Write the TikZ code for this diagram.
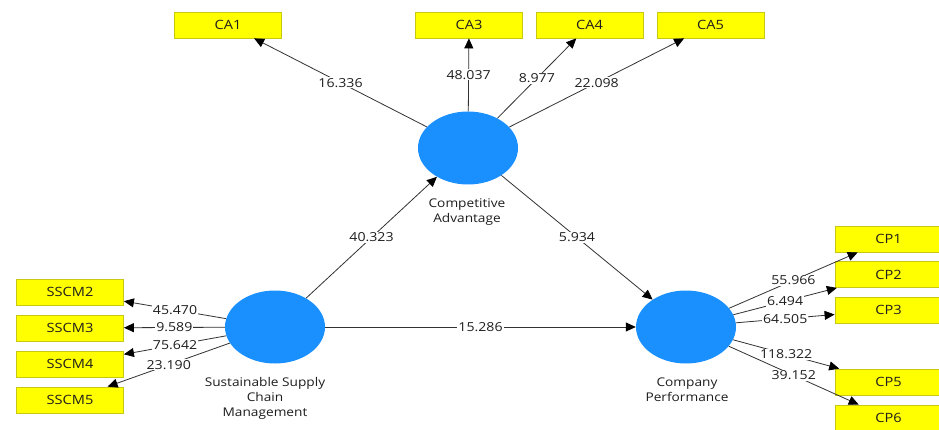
\documentclass[tikz,border=0pt]{standalone}
\usepackage{fontspec}
\setmainfont{Open Sans}[FakeStretch=1.14]
\usetikzlibrary{arrows.meta,shapes.geometric}
\definecolor{lvblue}{RGB}{26,144,255}
\definecolor{boxyellow}{RGB}{255,255,0}
\definecolor{boxedge}{RGB}{200,200,20}
\definecolor{linegray}{RGB}{50,50,50}
\definecolor{txt}{RGB}{30,30,30}
\begin{document}
\begin{tikzpicture}[x=1pt,y=-1pt,
  font=\fontsize{12}{15}\selectfont,
  latent/.style={ellipse,fill=lvblue,minimum width=100,minimum height=73,inner sep=0},
  indicator/.style={rectangle,draw=boxedge,line width=0.8pt,fill=boxyellow,minimum width=107,minimum height=26,inner sep=0,text=txt,font=\fontsize{12.8}{15}\selectfont},
  caption/.style={align=center,text=txt,inner sep=0},
  conn/.style={draw=linegray,line width=0.8pt,-{Triangle[length=10pt,width=9pt,color=black]}},
  val/.style={fill=white,inner sep=1pt,text=txt,pos=0.5,font=\fontsize{12.4}{15}\selectfont}]
\clip (0,0) rectangle (939,430);
\fill[white] (0,0) rectangle (939,430);

% latent variables
\node[latent] (ca) at (468,148) {};
\node[latent] (ss) at (275,327) {};
\node[latent] (cp) at (686,327) {};

\node[caption] (catext) at (467,212) {Competitive\\Advantage};
\node[caption] (sstext) at (265,398) {Sustainable Supply\\Chain\\Management};
\node[caption] (cptext) at (687,390) {Company\\Performance};

% indicators
\node[indicator] (ca1) at (228,25) {CA1};
\node[indicator] (ca3) at (469,25) {CA3};
\node[indicator] (ca4) at (589.5,25) {CA4};
\node[indicator] (ca5) at (710.5,25) {CA5};

\node[indicator] (s2) at (70,292) {SSCM2};
\node[indicator] (s3) at (70,328) {SSCM3};
\node[indicator] (s4) at (70,364) {SSCM4};
\node[indicator] (s5) at (70,400) {SSCM5};

\node[indicator] (cp1) at (888.5,239) {CP1};
\node[indicator] (cp2) at (888.5,274.5) {CP2};
\node[indicator] (cp3) at (888.5,310) {CP3};
\node[indicator] (cp5) at (888.5,382) {CP5};
\node[indicator] (cp6) at (888.5,418) {CP6};

% outer loadings
\draw[conn] (ca) -- node[val] {16.336} (ca1);
\draw[conn] (ca) -- node[val] {48.037} (ca3);
\draw[conn] (ca) -- node[val] {8.977} (ca4);
\draw[conn] (ca) -- node[val] {22.098} (ca5);

\draw[conn] (ss) -- node[val] {45.470} (s2);
\draw[conn] (ss) -- node[val] {9.589} (s3);
\draw[conn] (ss) -- node[val] {75.642} (s4);
\draw[conn] (ss) -- node[val] {23.190} (s5);

\draw[conn] (cp) -- node[val] {55.966} (cp1);
\draw[conn] (cp) -- node[val] {6.494} (cp2);
\draw[conn] (cp) -- node[val] {64.505} (cp3);
\draw[conn] (cp) -- node[val] {118.322} (cp5);
\draw[conn] (cp) -- node[val] {39.152} (cp6);

% structural paths
\draw[conn] (ss) -- node[val] {40.323} (ca);
\draw[conn] (ca) -- node[val] {5.934} (cp);
\draw[conn] (ss) -- node[val] {15.286} (cp);
\end{tikzpicture}
\end{document}
